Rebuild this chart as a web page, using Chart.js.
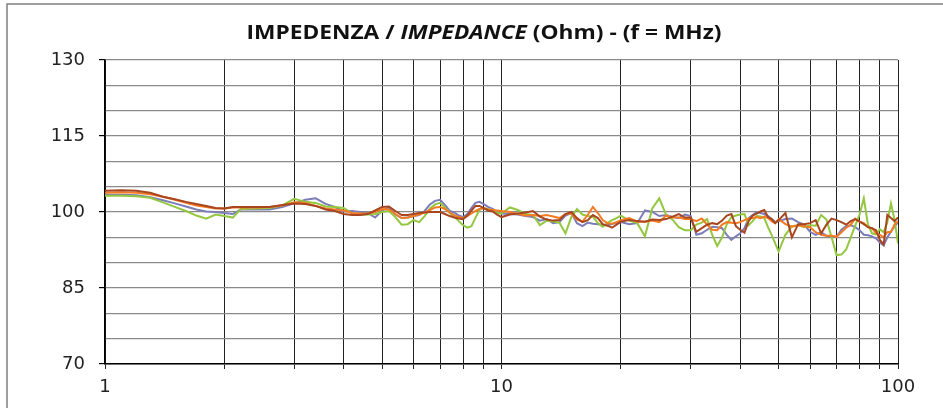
<!DOCTYPE html>
<html>
<head>
<meta charset="utf-8">
<script src="https://cdn.jsdelivr.net/npm/chart.js@4.4.1/dist/chart.umd.min.js"></script>
<style>
  html, body { margin: 0; padding: 0; background: #fff; }
  #wrap { width: 943px; height: 408px; position: relative; }
</style>
</head>
<body>
<div id="wrap"><canvas id="chart" width="943" height="408"></canvas></div>
<script>
// frequenze (MHz)
var freq = [1,1.1,1.2,1.3,1.4,1.5,1.6,1.7,1.8,1.9,
  2,2.1,2.2,2.4,2.6,2.8,3,3.2,3.4,3.6,
  3.8,4,4.2,4.4,4.6,4.8,5,5.2,5.4,5.6,
  5.8,6,6.2,6.4,6.6,6.8,7,7.2,7.4,7.6,
  7.8,8,8.2,8.4,8.6,8.8,9,9.25,9.5,9.75,
  10,10.5,11,11.5,12,12.5,13,13.5,14,14.5,
  15,15.5,16,16.5,17,17.5,18,18.5,19,19.5,
  20,21,22,23,24,25,26,27,28,29,
  30,31,32,33,34,35,36,37,38,39,
  40,41,42,43,44,45,46,47,48,49,
  50,52,54,56,58,60,62,64,66,68,
  70,72,74,76,78,80,82,84,86,88,
  90,92,94,96,98,100];

var blu = [103.4,103.4,103.3,102.9,102.3,101.7,101.1,100.5,100.1,100.0,
  99.8,99.6,100.5,100.5,100.5,101.0,101.7,102.4,102.7,101.6,
  101.0,100.1,100.2,100.0,99.8,98.9,100.3,100.9,99.5,98.8,
  98.9,99.2,99.4,100.2,101.5,102.2,102.4,101.4,100.2,99.9,
  99.3,99.0,99.6,100.8,101.8,102.0,101.6,101.0,100.6,100.0,
  99.7,99.6,99.5,99.2,99.0,98.3,98.6,97.8,98.0,99.3,
  99.8,97.8,97.2,97.9,97.7,97.6,97.5,97.4,97.6,97.9,
  98.0,97.6,97.8,100.3,100.0,99.2,99.4,99.0,98.8,99.5,
  99.2,95.5,95.8,96.5,97.1,97.0,96.8,95.5,94.5,95.2,
  95.8,96.8,98.8,99.4,100.0,99.8,99.6,99.2,98.6,98.0,
  98.2,98.6,98.7,98.0,97.5,96.1,95.5,96.0,95.3,95.1,
  95.1,96.5,97.2,97.4,97.0,96.4,95.5,95.4,95.2,94.8,
  94.0,93.4,95.0,96.1,97.2,97.9];

var verde = [103.2,103.2,103.1,102.8,101.9,101.0,100.2,99.3,98.7,99.5,
  99.2,98.9,100.6,100.7,100.8,101.3,102.6,102.0,101.8,101.1,
  101.0,100.8,99.7,99.5,99.5,99.6,100.0,100.2,99.0,97.5,
  97.6,98.4,98.0,99.2,100.7,101.5,101.8,100.9,99.8,99.1,
  98.2,97.4,96.9,97.2,98.9,100.4,100.8,100.6,100.3,99.8,
  99.7,100.9,100.4,99.6,99.4,97.4,98.3,98.1,97.9,95.8,
  99.0,100.6,99.5,99.2,99.1,97.8,97.1,97.8,98.4,98.8,
  99.3,98.3,97.8,95.2,100.7,102.7,99.5,98.5,97.0,96.4,
  96.4,97.5,97.9,98.6,95.5,93.3,95.0,97.6,99.0,99.3,
  99.5,99.6,97.4,98.2,99.2,99.1,98.8,97.0,95.5,93.8,
  92.2,95.5,97.2,97.4,97.0,97.4,97.3,99.4,98.5,95.0,
  91.5,91.6,92.6,95.0,97.3,99.5,102.7,97.5,95.8,95.6,
  96.6,96.0,98.0,101.7,98.5,93.8];

var arancio = [103.8,103.9,103.8,103.5,103.0,102.4,101.8,101.3,101.0,100.7,
  100.7,100.9,100.9,100.9,101.0,101.3,101.9,101.8,101.2,100.7,
  100.5,100.3,99.8,99.7,99.7,100.0,100.6,100.5,99.6,98.8,
  98.9,99.2,99.5,99.9,100.4,100.9,101.0,100.6,99.9,99.4,
  99.0,98.8,99.2,99.7,100.2,100.6,100.8,100.5,100.4,100.3,
  100.2,100.0,99.6,99.3,99.4,99.2,99.4,99.1,98.8,99.6,
  99.7,98.5,98.1,99.4,101.0,99.8,98.4,97.8,97.7,98.0,
  98.4,98.8,98.1,98.1,98.3,98.0,99.3,98.9,98.9,98.6,
  98.6,98.2,98.7,97.5,96.5,96.4,97.5,98.0,97.9,97.8,
  98.0,98.4,98.7,98.8,99.0,98.8,99.1,98.8,98.2,97.8,
  98.6,97.6,97.1,97.4,97.2,97.0,96.0,95.5,95.3,95.3,
  95.1,96.0,96.9,97.5,98.7,98.1,97.8,97.0,96.8,95.8,
  95.5,95.0,96.0,96.1,97.5,98.2];

var marrone = [104.2,104.3,104.2,103.8,103.0,102.5,102.0,101.6,101.2,100.8,
  100.7,101.0,101.0,101.0,101.0,101.4,101.7,101.6,101.2,100.5,
  100.2,99.6,99.4,99.4,99.6,100.3,101.0,101.1,100.2,99.4,
  99.4,99.6,99.8,99.9,100.0,100.0,100.0,99.6,99.2,98.9,
  98.7,98.6,99.3,100.3,101.2,101.2,100.8,100.3,100.1,99.5,
  99.0,99.5,99.7,99.9,100.2,99.1,98.5,98.3,98.4,99.6,
  100.0,98.8,98.0,98.4,99.4,98.8,97.6,97.3,96.9,97.5,
  98.1,98.4,98.2,98.1,98.5,98.4,98.6,99.1,99.6,98.9,
  98.9,96.1,96.8,97.5,97.8,97.6,98.3,99.3,99.6,97.2,
  96.5,95.9,98.2,99.3,99.7,100.1,100.4,99.0,98.6,97.8,
  98.4,99.8,95.0,97.6,97.6,97.8,98.4,95.8,97.5,98.7,
  98.4,98.0,97.5,98.2,98.6,98.1,97.6,97.0,96.8,96.4,
  94.5,93.6,99.4,98.8,98.2,98.9];

var xTicks = [1,2,3,4,5,6,7,8,9,10,20,30,40,50,60,70,80,90,100];
var xLabels = [1, 10, 100];
var yLabels = [70, 85, 100, 115, 130];

function pts(vals) {
  return vals.map(function(v, i) { return {x: freq[i], y: v}; });
}
function serie(vals, col) {
  return { data: pts(vals), borderColor: col, borderWidth: 2, pointRadius: 0, tension: 0, fill: false };
}

// cornice + titolo misto (corsivo)
var decor = {
  id: 'decor',
  beforeDraw: function(chart) {
    var c = chart.ctx;
    c.save();
    c.fillStyle = '#fff';
    c.fillRect(0, 0, chart.width, chart.height);
    c.strokeStyle = '#808080';
    c.lineWidth = 1.5;
    c.beginPath();
    c.moveTo(7, 408); c.lineTo(7, 4); c.lineTo(943, 4);
    c.stroke();
    c.restore();
  },
  afterDraw: function(chart) {
    var c = chart.ctx;
    var parts = [
      ['bold 19px "Open Sans"', 'IMPEDENZA / '],
      ['italic bold 19px "Open Sans"', 'IMPEDANCE'],
      ['bold 19px "Open Sans"', ' (Ohm) - (f = MHz)']
    ];
    c.save();
    var w = 0;
    parts.forEach(function(p) { c.font = p[0]; w += c.measureText(p[1]).width; });
    var sx = 475 / w;
    var x = 484 - 475 / 2;
    c.fillStyle = '#111';
    c.textBaseline = 'middle';
    c.translate(x, 34);
    c.scale(sx, 1);
    var cx = 0;
    parts.forEach(function(p) { c.font = p[0]; c.fillText(p[1], cx, 0); cx += c.measureText(p[1]).width; });
    c.restore();
  }
};

new Chart(document.getElementById('chart'), {
  type: 'line',
  data: {
    datasets: [
      serie(marrone, '#a84620'),
      serie(arancio, '#f47b22'),
      serie(verde, '#93c73f'),
      serie(blu, '#7c7cb8')
    ]
  },
  options: {
    responsive: false,
    animation: false,
    events: [],
    layout: { padding: { top: 60, right: 45, left: 0, bottom: 0 } },
    plugins: { legend: { display: false }, tooltip: { enabled: false }, title: { display: false } },
    scales: {
      x: {
        type: 'logarithmic', min: 1, max: 100,
        afterBuildTicks: function(s) { s.ticks = xTicks.map(function(v) { return {value: v}; }); },
        afterFit: function(s) { s.height = 44; },
        ticks: {
          autoSkip: false, maxRotation: 0, padding: 8, color: '#222',
          font: { family: 'DejaVu Sans', size: 18 },
          callback: function(v) { return xLabels.indexOf(v) >= 0 ? String(v) : ''; }
        },
        grid: { color: '#222', lineWidth: 1, tickLength: 5, tickColor: '#222' },
        border: { color: '#000', width: 1.5 }
      },
      y: {
        min: 70, max: 130,
        afterFit: function(s) { s.width = 105; },
        ticks: {
          stepSize: 5, autoSkip: false, padding: 14, color: '#222',
          font: { family: 'DejaVu Sans', size: 18 },
          callback: function(v) { return yLabels.indexOf(v) >= 0 ? String(v) : ''; }
        },
        grid: {
          color: '#8a8a8a', lineWidth: 1.2, tickLength: 6,
          tickColor: function(ctx) { return ctx.tick && yLabels.indexOf(ctx.tick.value) >= 0 ? '#000' : 'rgba(0,0,0,0)'; }
        },
        border: { color: '#000', width: 1.5 }
      }
    }
  },
  plugins: [decor]
});
</script>
</body>
</html>
